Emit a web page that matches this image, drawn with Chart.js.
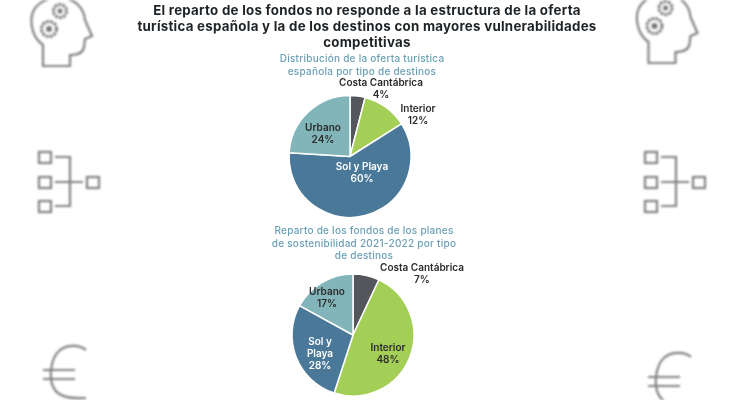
<!DOCTYPE html>
<html lang="es">
<head>
<meta charset="utf-8">
<title>Reparto de los fondos</title>
<script src="https://cdn.jsdelivr.net/npm/chart.js@4"></script>
<style>
  html, body { margin: 0; background: #fff; }
  body { position: relative; width: 732px; height: 400px; overflow: hidden; font-family: Inter, "Open Sans", sans-serif; }
  .soft { filter: blur(0.45px); }
  .icons { position: absolute; left: 0; top: 0; filter: blur(0.8px); }
  .title, .sub { position: absolute; text-align: center; white-space: nowrap; }
  .title { left: 137px; width: 460px; top: 2px; font-size: 13.3px; line-height: 16px; font-weight: 700; letter-spacing: 0.27px; color: #1f2326; }
  .sub { width: 300px; font-size: 10px; line-height: 12.5px; font-weight: 500; letter-spacing: 0.25px; color: #6a9fb5; }
  .wrap { position: absolute; width: 300px; }
</style>
</head>
<body>
<svg class="icons" width="732" height="400" fill="none" stroke="#808080" stroke-width="2.2">
  <defs>
    <g id="head">
      <path d="M43 66 L43 45 C33 38 30 25 32 15 C35 3 48 -3 60 -2 C75 -2 84 8 85 20 L92 36 L85 39 L84 47 C83 53 78 55 70 55 L70 66 Z"/>
      <circle cx="60" cy="11" r="6.5" stroke-width="3" stroke-dasharray="3 1"/>
      <circle cx="60" cy="11" r="2.5" fill="#777" stroke="none"/>
      <circle cx="49" cy="29" r="7.5" stroke-width="3" stroke-dasharray="3 1"/>
      <circle cx="49" cy="29" r="3" fill="#777" stroke="none"/>
    </g>
    <g id="net">
      <rect x="39" y="152" width="12" height="11"/>
      <rect x="39" y="177" width="12" height="11"/>
      <rect x="39" y="201" width="12" height="11"/>
      <rect x="87" y="177" width="12" height="11"/>
      <path d="M55 157 H70 V206 H55 M55 182 H83"/>
    </g>
    <g id="euro">
      <path d="M86 350 C80 345 68 344 60 350 C50 358 48 380 55 390 C60 397 70 399 86 398"/>
      <path d="M43 370 H75 M43 379 H75"/>
    </g>
  </defs>
  <use href="#head"/><use href="#net"/><use href="#euro"/>
  <use href="#head" x="605.5" y="-3"/><use href="#net" x="606" y="0"/><use href="#euro" x="605" y="7"/>
</svg>

<div class="title soft">El reparto de los fondos no responde a la estructura de la oferta<br>turística española y la de los destinos con mayores vulnerabilidades<br>competitivas</div>
<div class="sub soft" style="left:212px;top:52px">Distribución de la oferta turística<br>española por tipo de destinos</div>
<div class="sub soft" style="left:214px;top:224px">Reparto de los fondos de los planes<br>de sostenibilidad 2021-2022 por tipo<br>de destinos</div>

<div class="wrap soft" style="left:200px;top:76px;height:161px"><canvas id="pieOferta"></canvas></div>
<div class="wrap soft" style="left:203px;top:255px;height:160px"><canvas id="pieFondos"></canvas></div>

<script>
const categories = ["Costa Cantábrica", "Interior", "Sol y Playa", "Urbano"];
const ofertaValues = [4, 12, 60, 24];
const fondosValues = [7, 48, 28, 17];
const sliceColors = ["#55565c", "#a4cf57", "#4a7899", "#82b5b9"];

Chart.defaults.animation = false;

/* labels sit at an offset from the pie centre, one list per chart */
const sliceLabels = {
  id: "sliceLabels",
  afterDatasetsDraw(chart, args, opts) {
    const ctx = chart.ctx;
    const arcs = chart.getDatasetMeta(0).data;
    const cx = arcs[0].x, cy = arcs[0].y;
    const values = chart.data.datasets[0].data;
    ctx.save();
    ctx.font = "600 10px Inter, 'Open Sans', sans-serif";
    ctx.textAlign = "center";
    ctx.textBaseline = "middle";
    categories.forEach((name, i) => {
      const pos = opts.offsets[i];
      const lines = (opts.wrap[i] || [name]).concat(values[i] + "%");
      ctx.fillStyle = opts.colors[i];
      lines.forEach((line, n) => {
        ctx.fillText(line, cx + pos[0], cy + pos[1] + n * 12.2);
      });
    });
    ctx.restore();
  }
};

function makePie(id, values, offsets, wrap, colors) {
  new Chart(document.getElementById(id), {
    type: "pie",
    data: {
      labels: categories,
      datasets: [{
        data: values,
        backgroundColor: sliceColors,
        borderColor: "#ffffff",
        borderWidth: 1.5,
        radius: 61
      }]
    },
    options: {
      responsive: true,
      maintainAspectRatio: false,
      layout: { padding: 0 },
      plugins: {
        legend: { display: false },
        tooltip: { enabled: false },
        sliceLabels: { offsets, wrap, colors }
      }
    },
    plugins: [sliceLabels]
  });
}

makePie("pieOferta", ofertaValues,
  [[31, -73.5], [68, -47.5], [12, 10.5], [-27, -28.5]],
  {},
  ["#2b2b2b", "#2b2b2b", "#ffffff", "#2b2b2b"]);

makePie("pieFondos", fondosValues,
  [[69, -67], [35, 13], [-33, 7], [-26, -43]],
  { 2: ["Sol y", "Playa"] },
  ["#2b2b2b", "#2b2b2b", "#ffffff", "#2b2b2b"]);
</script>
</body>
</html>
